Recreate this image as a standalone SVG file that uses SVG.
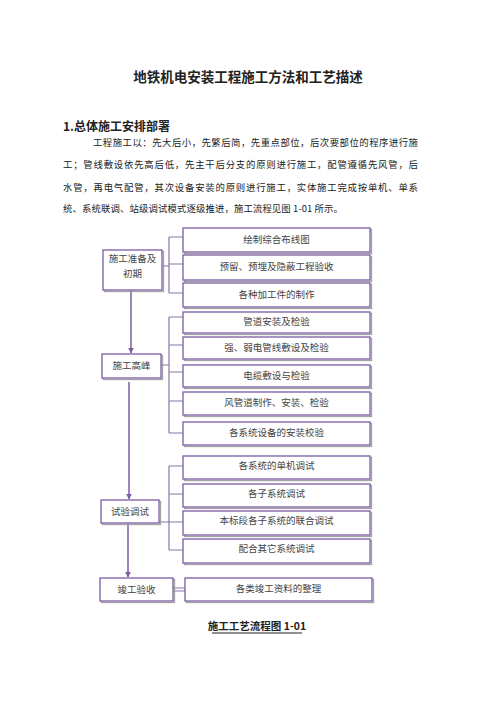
<svg xmlns="http://www.w3.org/2000/svg" width="496" height="702" viewBox="0 0 496 702">
<defs>
<style>
.t{font-family:"Noto Sans CJK SC","Liberation Serif",serif;fill:#222}
.b{font-family:"Noto Sans CJK SC","Liberation Serif",serif;fill:#444;font-size:9.5px;text-anchor:middle}
.box{fill:#fff;stroke:#7b5ca3;stroke-width:1.3}
.sh{fill:none;stroke:#a3a3a3;stroke-width:1.3}
.c{fill:none;stroke:#8878a6;stroke-width:1.2}
.a{fill:none;stroke:#7b5ca3;stroke-width:1.5}
</style>
<marker id="ah" viewBox="0 0 10 10" refX="9" refY="5" markerWidth="4" markerHeight="4" orient="auto"><path d="M0,0L10,5L0,10z" fill="#7b5ca3"/></marker>
</defs>
<rect width="496" height="702" fill="#fff"/>
<text class="t" x="248" y="82" font-size="13.5" font-weight="bold" text-anchor="middle">地铁机电安装工程施工方法和工艺描述</text>
<text class="t" x="63" y="131" font-size="12" font-weight="bold">1.总体施工安排部署</text>
<g font-size="9.4">
<text class="t" x="93" y="146" textLength="325" lengthAdjust="spacing">工程施工以：先大后小，先繁后简，先重点部位，后次要部位的程序进行施</text>
<text class="t" x="63" y="168" textLength="355" lengthAdjust="spacing">工；管线敷设依先高后低，先主干后分支的原则进行施工，配管遵循先风管，后</text>
<text class="t" x="63" y="191" textLength="355" lengthAdjust="spacing">水管，再电气配管，其次设备安装的原则进行施工，实体施工完成按单机、单系</text>
<text class="t" x="63" y="212" textLength="280" lengthAdjust="spacing">统、系统联调、站级调试模式逐级推进，施工流程见图 1-01 所示。</text>
</g>
<g id="connectors">
<path class="a" d="M131,290V353" marker-end="url(#ah)"/>
<path class="a" d="M129,382V499" marker-end="url(#ah)"/>
<path class="a" d="M128,523V577" marker-end="url(#ah)"/>
<path class="c" d="M162,266H169M169,237V293M169,237H183M169,264H183M169,293H183"/>
<path class="c" d="M161,365H169M169,317V433M169,317H183M169,345H183M169,372H183M169,401H183M169,433H183"/>
<path class="c" d="M159,522H169M169,466V550M169,466H183M169,494H183M169,522H183M169,550H183"/>
<path class="c" d="M173,588H185M173,591H185"/>
</g>
<g id="n1"><rect class="sh" x="104.5" y="251.5" width="59" height="40"/><rect class="box" x="103" y="250" width="59" height="40"/><text class="b" x="132.5" y="262">施工准备及</text><text class="b" x="132.5" y="277">初期</text></g>
<g id="n2"><rect class="sh" x="103.5" y="355.5" width="59" height="24"/><rect class="box" x="102" y="354" width="59" height="24"/><text class="b" x="131.5" y="369">施工高峰</text></g>
<g id="n3"><rect class="sh" x="102.5" y="501.5" width="58" height="23"/><rect class="box" x="101" y="500" width="58" height="23"/><text class="b" x="130" y="515">试验调试</text></g>
<g id="n4"><rect class="sh" x="101.5" y="579.5" width="73" height="23"/><rect class="box" x="100" y="578" width="73" height="23"/><text class="b" x="136.5" y="593">竣工验收</text></g>
<g id="r1"><rect class="sh" x="184.5" y="229.5" width="187" height="24"/><rect class="box" x="183" y="228" width="187" height="24"/><text class="b" x="276.5" y="243">绘制综合布线图</text></g>
<g id="r2"><rect class="sh" x="184.5" y="256.5" width="187" height="25"/><rect class="box" x="183" y="255" width="187" height="25"/><text class="b" x="276.5" y="270">预留、预埋及隐蔽工程验收</text></g>
<g id="r3"><rect class="sh" x="184.5" y="284.5" width="187" height="24"/><rect class="box" x="183" y="283" width="187" height="24"/><text class="b" x="276.5" y="298">各种加工件的制作</text></g>
<g id="r4"><rect class="sh" x="184.5" y="313.5" width="187" height="21"/><rect class="box" x="183" y="312" width="187" height="21"/><text class="b" x="276.5" y="325">管道安装及检验</text></g>
<g id="r5"><rect class="sh" x="184.5" y="338.5" width="187" height="22"/><rect class="box" x="183" y="337" width="187" height="22"/><text class="b" x="276.5" y="351">强、弱电管线敷设及检验</text></g>
<g id="r6"><rect class="sh" x="184.5" y="366.5" width="187" height="22"/><rect class="box" x="183" y="365" width="187" height="22"/><text class="b" x="276.5" y="379">电缆敷设与检验</text></g>
<g id="r7"><rect class="sh" x="184.5" y="393.5" width="187" height="23"/><rect class="box" x="183" y="392" width="187" height="23"/><text class="b" x="276.5" y="406">风管道制作、安装、检验</text></g>
<g id="r8"><rect class="sh" x="184.5" y="423.5" width="187" height="23"/><rect class="box" x="183" y="422" width="187" height="23"/><text class="b" x="276.5" y="436">各系统设备的安装校验</text></g>
<g id="r9"><rect class="sh" x="184.5" y="457.5" width="187" height="23"/><rect class="box" x="183" y="456" width="187" height="23"/><text class="b" x="276.5" y="469">各系统的单机调试</text></g>
<g id="r10"><rect class="sh" x="184.5" y="485.5" width="187" height="23"/><rect class="box" x="183" y="484" width="187" height="23"/><text class="b" x="276.5" y="497">各子系统调试</text></g>
<g id="r11"><rect class="sh" x="184.5" y="512.5" width="187" height="24"/><rect class="box" x="183" y="511" width="187" height="24"/><text class="b" x="276.5" y="524">本标段各子系统的联合调试</text></g>
<g id="r12"><rect class="sh" x="184.5" y="540.5" width="187" height="24"/><rect class="box" x="183" y="539" width="187" height="24"/><text class="b" x="276.5" y="552">配合其它系统调试</text></g>
<g id="r13"><rect class="sh" x="186.5" y="579.5" width="187" height="23"/><rect class="box" x="185" y="578" width="187" height="23"/><text class="b" x="278.5" y="592">各类竣工资料的整理</text></g>
<text class="t" x="257" y="630" font-size="10.5" font-weight="bold" text-anchor="middle">施工工艺流程图 1-01</text>
<line x1="212" y1="633" x2="302" y2="633" stroke="#222" stroke-width="1"/>
</svg>
